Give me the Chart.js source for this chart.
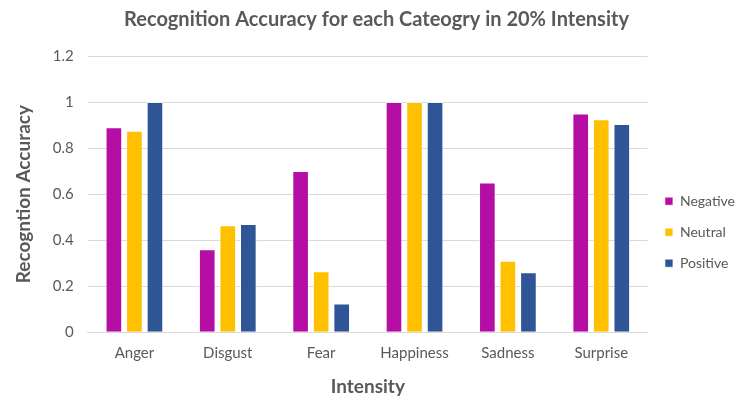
<!DOCTYPE html>
<html lang="en">
  <head>
    <meta charset="UTF-8" />
    <title>Recognition Accuracy</title>
    <script src="https://cdn.jsdelivr.net/npm/chart.js"></script>
    <style>
      html, body { margin: 0; padding: 0; background: #fff; }
      #wrap { width: 740px; height: 401px; }
    </style>
  </head>
  <body>
    <div id="wrap">
      <canvas id="chart"></canvas>
    </div>
    <script>
      const categories = ["Anger", "Disgust", "Fear", "Happiness", "Sadness", "Surprise"];
      const negative = [0.89, 0.36, 0.70, 1.0, 0.65, 0.95];
      const neutral = [0.875, 0.465, 0.265, 1.0, 0.31, 0.925];
      const positive = [1.0, 0.47, 0.125, 1.0, 0.26, 0.905];
      const yTicks = [0, 0.2, 0.4, 0.6, 0.8, 1, 1.2];

      const grey = "#595959";
      const font = "Lato, 'Liberation Sans', sans-serif";

      const bars = (label, data, color) => ({
        label,
        data,
        backgroundColor: color,
        borderColor: "rgba(255,255,255,0.6)",
        borderWidth: 1,
        barPercentage: 0.81,
        categoryPercentage: 0.66,
      });

      new Chart(document.getElementById("chart"), {
        type: "bar",
        data: {
          labels: categories,
          datasets: [
            bars("Negative", negative, "#B40EA5"),
            bars("Neutral", neutral, "#FFC000"),
            bars("Positive", positive, "#2F5597"),
          ],
        },
        options: {
          responsive: true,
          maintainAspectRatio: false,
          animation: false,
          layout: { padding: { left: 8, right: -5, top: 4, bottom: -1 } },
          plugins: {
            title: {
              display: true,
              text: "Recognition Accuracy for each Cateogry in 20% Intensity",
              color: grey,
              font: { family: font, size: 20, weight: "bold" },
              padding: { top: 4, bottom: 24 },
            },
            legend: {
              position: "right",
              title: { display: true, text: " ", padding: { top: 44 } },
              labels: {
                color: grey,
                font: { family: font, size: 14 },
                boxWidth: 8,
                boxHeight: 8,
                padding: 17,
              },
            },
            tooltip: { enabled: false },
          },
          scales: {
            x: {
              grid: { display: false },
              border: { color: "#D9D9D9" },
              ticks: { color: grey, font: { family: font, size: 15 }, padding: 4 },
              title: {
                display: true,
                text: "Intensity",
                color: grey,
                font: { family: font, size: 19, weight: "bold" },
                padding: { top: 9 },
              },
            },
            y: {
              min: 0,
              max: 1.2,
              afterBuildTicks: (axis) => {
                axis.ticks = yTicks.map((v) => ({ value: v }));
              },
              grid: { color: "#D9D9D9", drawTicks: false },
              border: { display: false },
              ticks: {
                color: grey,
                font: { family: font, size: 15 },
                padding: 14,
                callback: (v) => String(+v.toFixed(1)),
              },
              title: {
                display: true,
                text: "Recogntion Accuracy",
                color: grey,
                font: { family: font, size: 19, weight: "bold" },
              },
            },
          },
        },
      });
    </script>
  </body>
</html>
